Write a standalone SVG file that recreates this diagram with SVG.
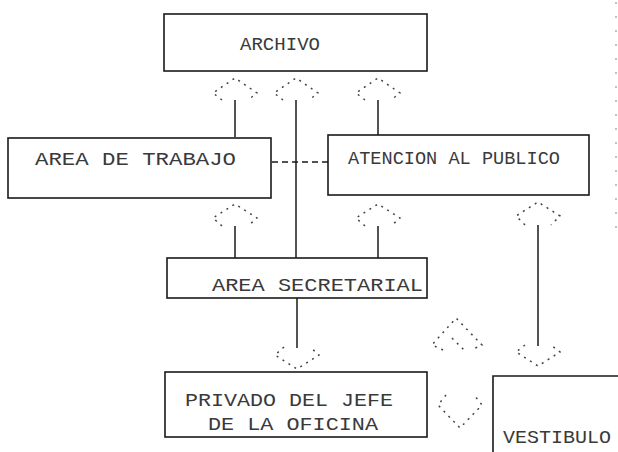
<svg xmlns="http://www.w3.org/2000/svg" width="618" height="452" viewBox="0 0 618 452">
<style>
.box{fill:none;stroke:#1a1a1a;stroke-width:1.6}
.lbl{font-family:"Liberation Mono","DejaVu Sans Mono",monospace;font-size:19px;fill:#3a3a3a}
.ln{fill:none;stroke:#1a1a1a;stroke-width:1.5}
.ah{fill:none;stroke:#444;stroke-width:1.5;stroke-dasharray:2 5}
.dash{fill:none;stroke:#1a1a1a;stroke-width:1.6;stroke-dasharray:6 4}
</style>
<rect width="618" height="452" fill="#fff"/>
<g id="connectors">
  <line class="ln" x1="235" y1="100" x2="235" y2="137"/>
  <line class="ln" x1="296" y1="100" x2="296" y2="258"/>
  <line class="ln" x1="378" y1="100" x2="378" y2="135"/>
  <polyline class="ah" points="222,100 213,93 235,78 257,93 248,100"/>
  <polyline class="ah" points="283,100 274,93 296,78 318,93 309,100"/>
  <polyline class="ah" points="365,100 356,93 378,78 400,93 391,100"/>
  <line class="dash" x1="272" y1="162" x2="328" y2="162"/>
  <line class="ln" x1="235" y1="226" x2="235" y2="258"/>
  <line class="ln" x1="378" y1="226" x2="378" y2="258"/>
  <polyline class="ah" points="222,226 213,218 235,204 257,218 248,226"/>
  <polyline class="ah" points="365,226 356,218 378,204 400,218 391,226"/>
  <line class="ln" x1="538" y1="225" x2="538" y2="346"/>
  <polyline class="ah" points="525,225 516,216 538,202 560,216 551,225"/>
  <polyline class="ah" points="525,345 516,352 538,366 560,352 551,345"/>
  <line class="ln" x1="297" y1="298" x2="297" y2="348"/>
  <polyline class="ah" points="284,347 275,355 297,369 319,355 310,347"/>
  <polyline class="ah" points="443,350 432,345 456,318 482,345 471,350"/>
  <line class="ah" x1="452" y1="338" x2="466" y2="352"/>
  <polyline class="ah" points="446,395 438,405 460,428 482,405 474,395"/>
  <line x1="616" y1="2" x2="616" y2="235" stroke="#999" stroke-width="1.2" stroke-dasharray="2 12"/>
</g>
<g id="archivo">
  <rect class="box" x="164" y="14" width="263" height="57"/>
  <text class="lbl" x="240" y="50" textLength="80" lengthAdjust="spacingAndGlyphs">ARCHIVO</text>
</g>
<g id="area-trabajo">
  <rect class="box" x="8" y="138" width="263" height="60"/>
  <text class="lbl" x="35" y="165" textLength="201" lengthAdjust="spacingAndGlyphs">AREA DE TRABAJO</text>
</g>
<g id="atencion-publico">
  <rect class="box" x="328" y="135" width="261" height="60"/>
  <text class="lbl" x="348" y="164" textLength="212" lengthAdjust="spacingAndGlyphs">ATENCION AL PUBLICO</text>
</g>
<g id="area-secretarial">
  <rect class="box" x="167" y="258" width="260" height="40"/>
  <text class="lbl" x="212" y="291" textLength="211" lengthAdjust="spacingAndGlyphs">AREA SECRETARIAL</text>
</g>
<g id="privado-jefe">
  <rect class="box" x="165" y="372" width="262" height="65"/>
  <text class="lbl" x="185" y="406" textLength="208" lengthAdjust="spacingAndGlyphs">PRIVADO DEL JEFE</text>
  <text class="lbl" x="208" y="430" textLength="170" lengthAdjust="spacingAndGlyphs">DE LA OFICINA</text>
</g>
<g id="vestibulo">
  <polyline class="box" points="493,452 493,376 620,376"/>
  <text class="lbl" x="503" y="443" textLength="108" lengthAdjust="spacingAndGlyphs">VESTIBULO</text>
</g>
</svg>
